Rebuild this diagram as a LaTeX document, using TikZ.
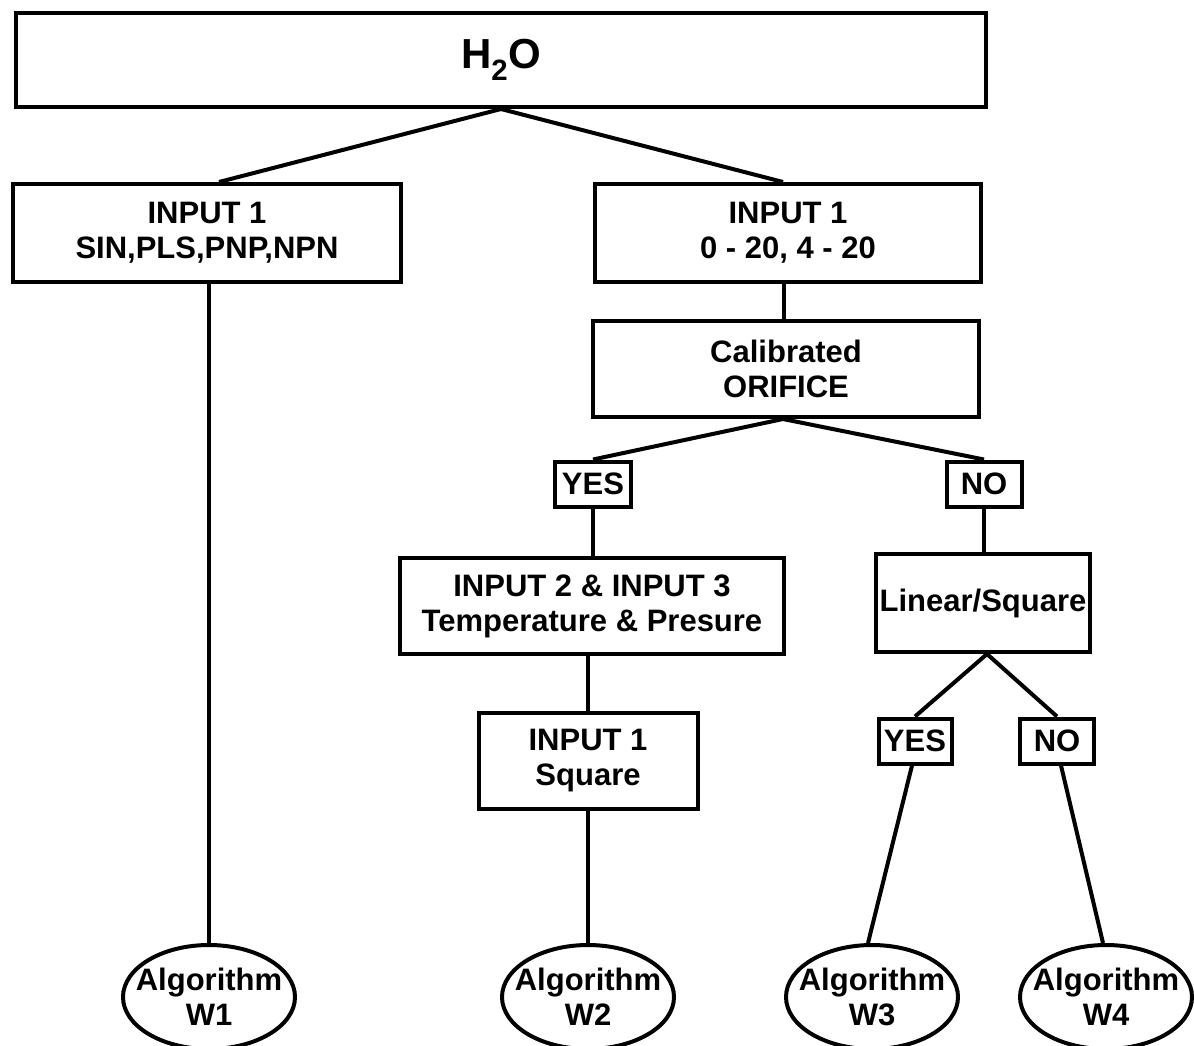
\documentclass[tikz,border=0pt]{standalone}
\usepackage{fontspec}
\setmainfont{Liberation Sans}
\usetikzlibrary{shapes.geometric}

\begin{document}
\begin{tikzpicture}[x=1pt,y=-1pt,
    box/.style={draw, line width=4pt, align=center, inner sep=0pt,
        font=\fontsize{31}{35}\selectfont\bfseries},
    tag/.style={box, minimum height=45pt},
    algo/.style={draw, ellipse, line width=4pt, align=center, inner sep=-15pt,
        minimum width=172pt, minimum height=104pt,
        font=\fontsize{31}{35}\selectfont\bfseries},
    link/.style={line width=4pt}]
    \useasboundingbox (0,0) rectangle (1194,1045);
    % boxes
    \node[box, minimum width=970pt, minimum height=94pt,
        font=\fontsize{42}{48}\selectfont\bfseries] (water) at (501,60) {H\textsubscript{2}O};
    \node[box, minimum width=388pt, minimum height=98pt] (inpulse) at (207,233) {INPUT 1\\SIN,PLS,PNP,NPN};
    \node[box, minimum width=386pt, minimum height=98pt] (inanalog) at (788,233) {INPUT 1\\0 - 20, 4 - 20};
    \node[box, minimum width=386pt, minimum height=96pt] (orifice) at (786,369) {Calibrated\\ORIFICE};
    \node[tag, minimum width=76pt] (yesa) at (593,484) {YES};
    \node[tag, minimum width=75pt] (noa) at (984,484) {NO};
    \node[box, minimum width=384pt, minimum height=96pt] (tempres) at (592,606) {INPUT 2 \& INPUT 3\\Temperature \& Presure};
    \node[box, minimum width=219pt, minimum height=96pt] (square) at (588,761) {INPUT 1\\Square};
    \node[box, minimum width=214pt, minimum height=98pt] (linsq) at (983,603) {Linear/Square};
    \node[tag, minimum width=73pt] (yesb) at (915,741) {YES};
    \node[tag, minimum width=74pt] (nob) at (1057,741) {NO};
    % algorithms
    \node[algo] (wa) at (209,997) {Algorithm\\W1};
    \node[algo] (wb) at (588,997) {Algorithm\\W2};
    \node[algo] (wc) at (872,997) {Algorithm\\W3};
    \node[algo] (wd) at (1106,997) {Algorithm\\W4};
    % connectors
    \draw[link] (water.south) -- ([xshift=12pt]inpulse.north);
    \draw[link] (water.south) -- ([xshift=-5pt]inanalog.north);
    \draw[link] (wa.north |- inpulse.south) -- (wa.north);
    \draw[link] ([xshift=-4pt]inanalog.south) -- ([xshift=-2pt]orifice.north);
    \draw[link] ([xshift=-3pt]orifice.south) -- (yesa.north);
    \draw[link] ([xshift=-3pt]orifice.south) -- (noa.north);
    \draw[link] (yesa.south) -- (yesa.south |- tempres.north);
    \draw[link] (square.north |- tempres.south) -- (square.north);
    \draw[link] (square.south) -- (wb.north);
    \draw[link] (noa.south) -- (noa.south |- linsq.north);
    \draw[link] ([xshift=4pt]linsq.south) -- (yesb.north);
    \draw[link] ([xshift=4pt]linsq.south) -- (nob.north);
    \draw[link] ([xshift=-3pt]yesb.south) -- ([xshift=-4pt]wc.north);
    \draw[link] ([xshift=4pt]nob.south) -- ([xshift=-3pt]wd.north);
\end{tikzpicture}
\end{document}
